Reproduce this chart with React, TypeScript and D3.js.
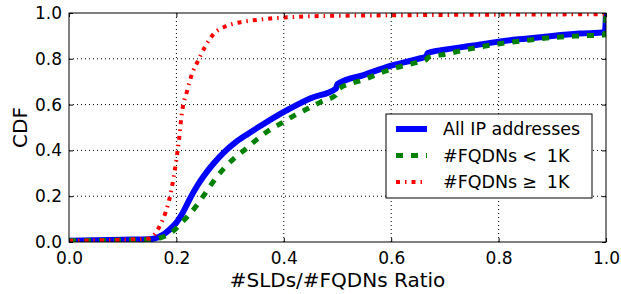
import React, { useEffect, useRef } from 'react';
import * as d3 from 'd3';

// CDF of the #SLDs/#FQDNs ratio
const allX = [0, 0.1, 0.15, 0.16, 0.17, 0.18, 0.19, 0.2, 0.21, 0.22, 0.23, 0.24, 0.25, 0.27, 0.29, 0.31, 0.333, 0.36, 0.4, 0.45, 0.497, 0.5, 0.55, 0.6, 0.65, 0.665, 0.668, 0.7, 0.75, 0.8, 0.85, 0.9, 0.95, 0.998, 1.0];
const allY = [0.005, 0.01, 0.012, 0.016, 0.025, 0.04, 0.06, 0.085, 0.12, 0.165, 0.21, 0.25, 0.285, 0.345, 0.395, 0.435, 0.472, 0.512, 0.568, 0.628, 0.67, 0.69, 0.73, 0.77, 0.8, 0.81, 0.825, 0.84, 0.857, 0.875, 0.888, 0.9, 0.91, 0.916, 1.0];

const lowX = [0, 0.1, 0.15, 0.17, 0.18, 0.19, 0.2, 0.21, 0.22, 0.238, 0.25, 0.266, 0.29, 0.31, 0.331, 0.35, 0.371, 0.4, 0.42, 0.446, 0.47, 0.497, 0.5, 0.55, 0.6, 0.65, 0.665, 0.668, 0.7, 0.75, 0.8, 0.85, 0.9, 0.95, 0.998, 1.0];
const lowY = [0.005, 0.008, 0.01, 0.018, 0.026, 0.04, 0.06, 0.085, 0.11, 0.16, 0.2, 0.255, 0.325, 0.37, 0.41, 0.448, 0.485, 0.525, 0.553, 0.584, 0.613, 0.642, 0.665, 0.71, 0.755, 0.785, 0.795, 0.805, 0.82, 0.845, 0.865, 0.88, 0.893, 0.9, 0.905, 1.0];

const highX = [0, 0.1, 0.15, 0.16, 0.17, 0.18, 0.19, 0.2, 0.205, 0.21, 0.22, 0.23, 0.24, 0.255, 0.27, 0.29, 0.31, 0.35, 0.38, 0.44, 0.5, 0.6, 0.8, 0.998, 1.0];
const highY = [0.005, 0.01, 0.015, 0.035, 0.075, 0.13, 0.22, 0.36, 0.45, 0.56, 0.66, 0.74, 0.79, 0.86, 0.91, 0.94, 0.955, 0.97, 0.977, 0.985, 0.988, 0.99, 0.993, 0.995, 1.0];

const xTicks = [0, 0.2, 0.4, 0.6, 0.8, 1.0];
const yTicks = [0, 0.2, 0.4, 0.6, 0.8, 1.0];

const series = [
  { name: 'All IP addresses', xs: allX, ys: allY, color: '#0000ff', width: 6, dash: null },
  { name: 'low', xs: lowX, ys: lowY, color: '#008000', width: 5, dash: '7,8' },
  { name: 'high', xs: highX, ys: highY, color: '#ff0000', width: 4, dash: '4,5,1.5,5' },
];

const App = () => {
  const svgRef = useRef<SVGSVGElement>(null);

  useEffect(() => {
    const width = 621;
    const height = 294;
    const margin = { top: 13, right: 15, bottom: 52, left: 69 };
    const font = 'DejaVu Sans';

    d3.select(svgRef.current).selectAll('*').remove();
    const svg = d3.select(svgRef.current).attr('width', width).attr('height', height);

    const x = d3.scaleLinear().domain([0, 1]).range([margin.left, width - margin.right]);
    const y = d3.scaleLinear().domain([0, 1]).range([height - margin.bottom, margin.top]);

    svg.append('rect').attr('width', width).attr('height', height).attr('fill', '#fff');

    svg
      .append('clipPath')
      .attr('id', 'plot-clip')
      .append('rect')
      .attr('x', x(0))
      .attr('y', y(1))
      .attr('width', x(1) - x(0))
      .attr('height', y(0) - y(1));

    // Grid
    const grid = svg.append('g').attr('stroke', '#000').attr('stroke-width', 1).attr('stroke-dasharray', '1,3');
    xTicks.slice(1, -1).forEach((t) => {
      grid.append('line').attr('x1', x(t)).attr('x2', x(t)).attr('y1', y(0)).attr('y2', y(1));
    });
    yTicks.slice(1, -1).forEach((t) => {
      grid.append('line').attr('x1', x(0)).attr('x2', x(1)).attr('y1', y(t)).attr('y2', y(t));
    });

    // Curves
    const line = d3
      .line<[number, number]>()
      .x((d) => x(d[0]))
      .y((d) => y(d[1]))
      .curve(d3.curveMonotoneX);

    series.forEach((s) => {
      const pts = s.xs.map((v, i) => [v, s.ys[i]] as [number, number]);
      svg
        .append('path')
        .attr('clip-path', 'url(#plot-clip)')
        .attr('d', line(pts))
        .attr('fill', 'none')
        .attr('stroke', s.color)
        .attr('stroke-width', s.width)
        .attr('stroke-dasharray', s.dash)
        .attr('stroke-linejoin', 'round');
    });

    // Axes (inward ticks on all sides)
    const fmt = d3.format('.1f');
    const styleAxis = (g) => {
      g.select('.domain').remove();
      g.selectAll('line').attr('stroke', '#000');
      g.selectAll('text').attr('font-family', font).attr('font-size', 17).attr('fill', '#000');
    };

    svg
      .append('g')
      .attr('transform', `translate(0,${y(0)})`)
      .call(d3.axisBottom(x).tickValues(xTicks).tickFormat(fmt).tickSizeInner(-4).tickSizeOuter(0).tickPadding(10))
      .call(styleAxis);
    svg
      .append('g')
      .attr('transform', `translate(${x(0)},0)`)
      .call(d3.axisLeft(y).tickValues(yTicks).tickFormat(fmt).tickSizeInner(-4).tickSizeOuter(0).tickPadding(7))
      .call(styleAxis);
    svg
      .append('g')
      .attr('transform', `translate(0,${y(1)})`)
      .call(d3.axisTop(x).tickValues(xTicks).tickFormat(() => '').tickSizeInner(-4).tickSizeOuter(0))
      .call(styleAxis);
    svg
      .append('g')
      .attr('transform', `translate(${x(1)},0)`)
      .call(d3.axisRight(y).tickValues(yTicks).tickFormat(() => '').tickSizeInner(-4).tickSizeOuter(0))
      .call(styleAxis);

    svg
      .append('rect')
      .attr('x', x(0))
      .attr('y', y(1))
      .attr('width', x(1) - x(0))
      .attr('height', y(0) - y(1))
      .attr('fill', 'none')
      .attr('stroke', '#000')
      .attr('stroke-width', 1);

    // Axis labels
    svg
      .append('text')
      .attr('x', (x(0) + x(1)) / 2)
      .attr('y', 287)
      .attr('text-anchor', 'middle')
      .attr('font-family', font)
      .attr('font-size', 20)
      .text('#SLDs/#FQDNs Ratio');

    svg
      .append('text')
      .attr('transform', `translate(27,${(y(0) + y(1)) / 2}) rotate(-90)`)
      .attr('text-anchor', 'middle')
      .attr('font-family', font)
      .attr('font-size', 20)
      .text('CDF');

    // Legend
    const lg = svg.append('g').attr('transform', 'translate(386,114)');
    lg.append('rect').attr('width', 206).attr('height', 84).attr('fill', '#fff').attr('stroke', '#000').attr('stroke-width', 1);

    const rows = [
      { parts: ['All IP addresses'] },
      { parts: ['#FQDNs', '<', '1K'] },
      { parts: ['#FQDNs', '≥', '1K'] },
    ];
    rows.forEach((r, i) => {
      const s = series[i];
      const cy = 15 + i * 26.5;
      lg.append('line')
        .attr('x1', 10)
        .attr('x2', 41)
        .attr('y1', cy)
        .attr('y2', cy)
        .attr('stroke', s.color)
        .attr('stroke-width', s.width)
        .attr('stroke-dasharray', s.dash);
      const t = lg
        .append('text')
        .attr('x', 57)
        .attr('y', cy + 6)
        .attr('font-family', font)
        .attr('font-size', 17.5);
      r.parts.forEach((p, j) => {
        t.append('tspan').attr('dx', j === 0 ? 0 : j === 1 ? 5 : 10).text(p);
      });
    });
  }, []);

  return (
    <svg ref={svgRef} style={{ position: 'absolute', left: 0, top: 0, display: 'block' }}></svg>
  );
};

export default App;
